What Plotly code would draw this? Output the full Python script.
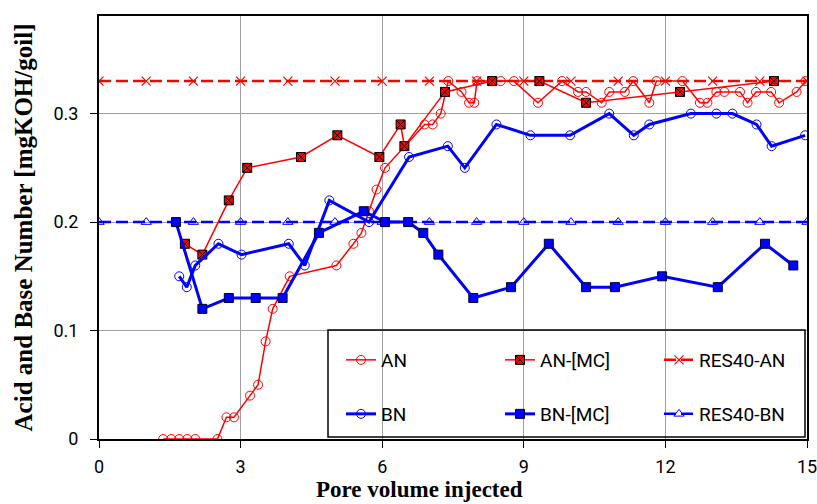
import plotly.graph_objects as go

# ---------------- data ----------------
an_x = [1.36, 1.53, 1.70, 1.87, 2.04, 2.51, 2.70, 2.86, 3.20, 3.37, 3.53, 3.68, 4.04, 5.03, 5.39,
        5.56, 5.72, 5.88, 6.06, 6.90, 7.07, 7.24, 7.40, 7.68, 7.84, 7.95, 8.01, 8.51, 8.79, 9.30,
        9.81, 10.15, 10.32, 10.65, 10.81, 11.14, 11.32, 11.66, 11.81, 12.36, 12.73, 12.89, 13.08,
        13.25, 13.58, 13.74, 13.92, 14.24, 14.41, 14.78, 14.97]
an_y = [0, 0, 0, 0, 0, 0, 0.02, 0.02, 0.04, 0.05, 0.09, 0.12, 0.15, 0.16, 0.18,
        0.19, 0.21, 0.23, 0.25, 0.29, 0.29, 0.30, 0.33, 0.32, 0.31, 0.31, 0.33, 0.33, 0.33, 0.31,
        0.33, 0.32, 0.32, 0.31, 0.32, 0.32, 0.33, 0.31, 0.33, 0.33, 0.31, 0.31, 0.32,
        0.32, 0.32, 0.31, 0.32, 0.32, 0.31, 0.32, 0.33]

an_mc_x = [1.82, 2.19, 2.75, 3.14, 4.28, 5.05, 5.94, 6.39, 6.47, 7.33, 8.33, 9.33, 10.32, 12.31, 14.30]
an_mc_y = [0.18, 0.17, 0.22, 0.25, 0.26, 0.28, 0.26, 0.29, 0.27, 0.32, 0.33, 0.33, 0.31, 0.32, 0.33]

bn_x = [1.70, 1.86, 2.04, 2.53, 3.02, 4.02, 4.36, 4.88, 5.72, 6.57, 7.39, 7.75, 8.42, 9.14, 9.98,
        10.81, 11.33, 11.66, 12.54, 13.08, 13.42, 13.93, 14.25, 14.96]
bn_y = [0.15, 0.14, 0.16, 0.18, 0.17, 0.18, 0.16, 0.22, 0.20, 0.26, 0.27, 0.25, 0.29, 0.28, 0.28,
        0.30, 0.28, 0.29, 0.30, 0.30, 0.30, 0.29, 0.27, 0.28]

bn_mc_x = [1.63, 2.19, 2.75, 3.32, 3.89, 4.66, 5.61, 6.06, 6.55, 6.87, 7.19, 7.93, 8.73, 9.53,
           10.32, 10.93, 11.93, 13.11, 14.11, 14.71]
bn_mc_y = [0.20, 0.12, 0.13, 0.13, 0.13, 0.19, 0.21, 0.20, 0.20, 0.19, 0.17, 0.13, 0.14, 0.18,
           0.14, 0.14, 0.15, 0.14, 0.18, 0.16]

res_x = list(range(0, 16))
res_an_y = [0.33] * 16
res_bn_y = [0.20] * 16

x_ticks = [0, 3, 6, 9, 12, 15]
y_ticks = [0, 0.1, 0.2, 0.3]
y_tick_text = ["0", "0.1", "0.2", "0.3"]

RED = "#FF0000"
BLUE = "#0000FF"
LEG_FONT = dict(family="Roboto", size=19, color="black")

fig = go.Figure()

fig.add_trace(go.Scatter(
    x=res_x, y=res_an_y, name="RES40-AN", mode="lines+markers", legend="legend", legendrank=3,
    line=dict(color=RED, width=2.5, dash="12px,5px"),
    marker=dict(symbol="x-thin-open", size=9, color=RED, line=dict(width=1.2, color=RED))))
fig.add_trace(go.Scatter(
    x=res_x, y=res_bn_y, name="RES40-BN", mode="lines+markers", legend="legend2", legendrank=3,
    line=dict(color=BLUE, width=2.5, dash="12px,5px"),
    marker=dict(symbol="triangle-up-open", size=9, color=BLUE, line=dict(width=1))))
fig.add_trace(go.Scatter(
    x=an_x, y=an_y, name="AN", mode="lines+markers", legend="legend", legendrank=1,
    line=dict(color=RED, width=1.5),
    marker=dict(symbol="circle-open", size=9, color=RED, line=dict(width=1))))
fig.add_trace(go.Scatter(
    x=an_mc_x, y=an_mc_y, name="AN-[MC]", mode="lines+markers", legend="legend", legendrank=2,
    line=dict(color=RED, width=1.5),
    marker=dict(symbol="square-x", size=9, color=RED, line=dict(width=1, color="black"))))
fig.add_trace(go.Scatter(
    x=bn_x, y=bn_y, name="BN", mode="lines+markers", legend="legend2", legendrank=1,
    line=dict(color=BLUE, width=3),
    marker=dict(symbol="circle-open", size=9, color=BLUE, line=dict(width=1))))
fig.add_trace(go.Scatter(
    x=bn_mc_x, y=bn_mc_y, name="BN-[MC]", mode="lines+markers", legend="legend2", legendrank=2,
    line=dict(color=BLUE, width=3),
    marker=dict(symbol="square", size=9, color=BLUE, line=dict(width=1, color="#000030"))))

L, R, T, B = 99, 10, 16, 65
W, H = 817, 504
pw, ph = W - L - R, H - T - B

def px_to_paper_x(px):
    return (px - L) / pw

def px_to_paper_y(py):
    return (H - B - py) / ph

legend_common = dict(orientation="h", entrywidth=114, entrywidthmode="pixels",
                     bgcolor="rgba(0,0,0,0)", borderwidth=0, font=LEG_FONT,
                     xanchor="left", yanchor="middle", itemwidth=30, traceorder="normal")

fig.update_layout(
    width=W, height=H,
    margin=dict(l=L, r=R, t=T, b=B, autoexpand=False),
    paper_bgcolor="white", plot_bgcolor="white",
    legend=dict(x=px_to_paper_x(341), y=px_to_paper_y(360), **legend_common),
    legend2=dict(x=px_to_paper_x(341), y=px_to_paper_y(414), **legend_common),
    shapes=[dict(type="rect", xref="paper", yref="paper",
                 x0=px_to_paper_x(328), x1=px_to_paper_x(805),
                 y0=px_to_paper_y(437), y1=px_to_paper_y(330),
                 line=dict(color="black", width=1.5), fillcolor="rgba(0,0,0,0)", layer="above")],
    annotations=[dict(text="<b>Pore volume injected</b>", xref="paper", yref="paper",
                      x=px_to_paper_x(419), y=px_to_paper_y(489), xanchor="center", yanchor="middle",
                      borderpad=0,
                      showarrow=False, font=dict(family="Liberation Serif", size=23, color="black"))],
)

fig.update_xaxes(
    range=[0, 15], tickvals=x_ticks, ticks="outside", ticklen=7, tickcolor="black",
    showline=True, linecolor="black", linewidth=2, mirror=True,
    showgrid=True, gridcolor="#A0A0A0", gridwidth=1, zeroline=False,
    ticklabeloverflow="allow",
    tickfont=dict(family="Roboto", size=18, color="black"), ticklabelstandoff=3)
fig.update_yaxes(
    range=[0, 0.39], tickvals=y_ticks, ticktext=y_tick_text, ticks="outside", ticklen=7,
    tickcolor="black", showline=True, linecolor="black", linewidth=2, mirror=True,
    showgrid=True, gridcolor="#A0A0A0", gridwidth=1, zeroline=False,
    tickfont=dict(family="Roboto", size=18, color="black"), ticklabelstandoff=8,
    title=dict(text="<b>Acid and Base Number [mgKOH/goil]</b>", standoff=14,
               font=dict(family="Liberation Serif", size=25, color="black")))

fig.write_html("out.html")
